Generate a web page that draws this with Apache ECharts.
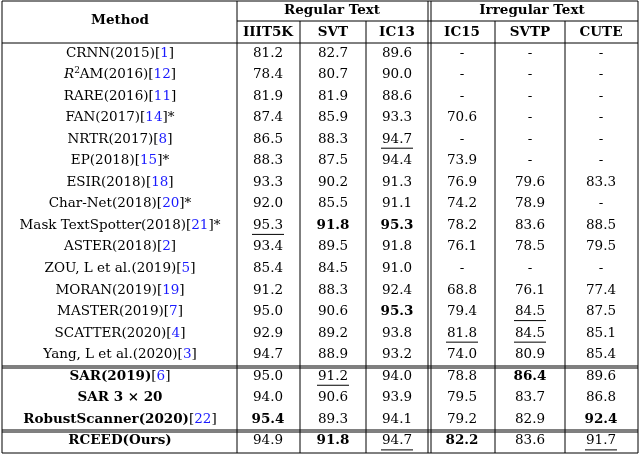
<!DOCTYPE html>
<html><head><meta charset="utf-8">
<script src="https://cdn.jsdelivr.net/npm/echarts@6/dist/echarts.min.js"></script>
<style>html,body{margin:0;padding:0;background:#fff}#c{width:640px;height:455px}</style>
</head><body><div id="c"></div>
<script>
// ---- data ----
const groupHeaders = ["Regular Text", "Irregular Text"];
const columns = ["IIIT5K", "SVT", "IC13", "IC15", "SVTP", "CUTE"];
const methodNames = ["CRNN(2015)", "R2AM(2016)", "RARE(2016)", "FAN(2017)", "NRTR(2017)", "EP(2018)", "ESIR(2018)", "Char-Net(2018)", "Mask TextSpotter(2018)", "ASTER(2018)", "ZOU, L et al.(2019)", "MORAN(2019)", "MASTER(2019)", "SCATTER(2020)", "Yang, L et al.(2020)", "SAR(2019)", "SAR 3 × 20", "RobustScanner(2020)", "RCEED(Ours)"];
const citations = ["1", "12", "11", "14", "8", "15", "18", "20", "21", "2", "5", "19", "7", "4", "3", "6", "", "22", ""];
const starred = [0,0,0,1,0,1,0,1,1,0,0,0,0,0,0,0,0,0,0];
const boldMethods = [0,0,0,0,0,0,0,0,0,0,0,0,0,0,0,1,1,1,1];
const values = [
  ["81.2","82.7","89.6","-","-","-"],
  ["78.4","80.7","90.0","-","-","-"],
  ["81.9","81.9","88.6","-","-","-"],
  ["87.4","85.9","93.3","70.6","-","-"],
  ["86.5","88.3","94.7","-","-","-"],
  ["88.3","87.5","94.4","73.9","-","-"],
  ["93.3","90.2","91.3","76.9","79.6","83.3"],
  ["92.0","85.5","91.1","74.2","78.9","-"],
  ["95.3","91.8","95.3","78.2","83.6","88.5"],
  ["93.4","89.5","91.8","76.1","78.5","79.5"],
  ["85.4","84.5","91.0","-","-","-"],
  ["91.2","88.3","92.4","68.8","76.1","77.4"],
  ["95.0","90.6","95.3","79.4","84.5","87.5"],
  ["92.9","89.2","93.8","81.8","84.5","85.1"],
  ["94.7","88.9","93.2","74.0","80.9","85.4"],
  ["95.0","91.2","94.0","78.8","86.4","89.6"],
  ["94.0","90.6","93.9","79.5","83.7","86.8"],
  ["95.4","89.3","94.1","79.2","82.9","92.4"],
  ["94.9","91.8","94.7","82.2","83.6","91.7"]
];
const boldCells = [[8,1],[8,2],[12,2],[15,4],[17,0],[17,5],[18,1],[18,3]];
const underlineCells = [[4,2],[8,0],[12,4],[13,3],[13,4],[15,1],[18,2],[18,5]];

// ---- layout ----
const colX = [268, 333, 397, 462, 530, 601];
const vLines = [237, 300, 366, 428, 431, 495, 565];
const rowY0 = 53, rowH = 21.55;
const font = '"DejaVu Serif", "Liberation Serif", serif';
const fs = '13.5px ';
const g = [];
function text(x, y, t, opts) {
  g.push({type:'text', x, y, style: Object.assign({text:t, fill:'#000', font:fs+font, align:'center', verticalAlign:'middle'}, opts||{})});
}
function line(x1,y1,x2,y2,w){ g.push({type:'line', shape:{x1,y1,x2,y2}, style:{stroke:'#000', lineWidth:w||1}}); }

// headers
text(120, 20, 'Method', {font:'bold '+fs+font});
text(332, 10, groupHeaders[0], {font:'bold '+fs+font});
text(532, 10, groupHeaders[1], {font:'bold '+fs+font});
columns.forEach((c,i)=> text(colX[i], 32, c, {font:'bold '+fs+font}));

// rows
const isIn=(arr,r,c)=>arr.some(a=>a[0]===r&&a[1]===c);
methodNames.forEach((m,r)=>{
  const y = rowY0 + r*rowH;
  const b = boldMethods[r] ? 'bold ' : '';
  let nameRich;
  if (m.startsWith('R2AM')) {
    nameRich = '{it|R}{sup|2}{n|AM(2016)}';
  } else nameRich = '{n|'+m+'}';
  let s = nameRich + (citations[r] ? '{r|[}{c|'+citations[r]+'}{r|]}' : '') + (starred[r] ? '{r|*}' : '');
  g.push({type:'text', x:120, y, style:{text:s, align:'center', verticalAlign:'middle', rich:{
    n:{font:b+fs+font, fill:'#000'},
    r:{font:fs+font, fill:'#000'},
    c:{font:fs+font, fill:'#1a1aff'},
    it:{font:'italic '+fs+font, fill:'#000'},
    sup:{font:'9px '+font, fill:'#000', verticalAlign:'top', padding:[0,0,8,0]}
  }}});
  values[r].forEach((v,c)=>{
    const bold = isIn(boldCells,r,c);
    text(colX[c], y, v, {font:(bold?'bold ':'')+fs+font});
    if (isIn(underlineCells,r,c)) line(colX[c]-16, y+9, colX[c]+16, y+9, 1);
  });
});

// rules
line(2,1,638,1,1);
line(237,21,638,21,1);
line(2,43,638,43,1);
line(2,366,638,366,1); line(2,368,638,368,1);
line(2,430,638,430,1); line(2,432,638,432,1);
line(2,453,638,453,1);
line(2,1,2,453,1); line(638,1,638,453,1);
vLines.forEach(x=> line(x, (x===237||x===428||x===431)?1:21, x, 453, 1));

const chart = echarts.init(document.getElementById('c'));
chart.setOption({animation:false, graphic:{elements:g}});
</script></body></html>
